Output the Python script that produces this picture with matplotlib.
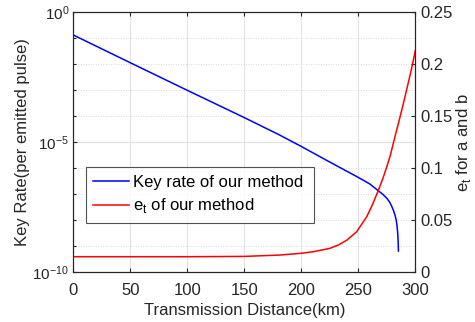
import numpy as np
import matplotlib.pyplot as plt
from matplotlib.ticker import FixedLocator, NullFormatter

plt.rcParams['font.family'] = ['Liberation Sans', 'DejaVu Sans']

# Key rate (log10 of rate)
rate_km = [0, 50, 100, 150, 181, 200, 225, 250, 260, 267.5, 272, 275, 277.5,
           279.3, 281, 282.2, 283.2, 283.9, 284.6, 285.0, 285.2]
rate_log = [-0.873, -1.94, -3.0, -4.05, -4.72, -5.16, -5.76, -6.35, -6.6, -6.86,
            -7.02, -7.15, -7.3, -7.46, -7.64, -7.8, -7.98, -8.18, -8.5, -8.85, -9.18]

# e_t
et_km = [0, 100, 150, 181, 200, 210.5, 225, 233, 240, 248.6, 257.4, 262, 267.5,
         271.5, 275, 278, 280.7, 283.5, 286.3, 289.5, 292.5, 295.5, 298.3, 300]
et_val = [0.015, 0.015, 0.0153, 0.0166, 0.0183, 0.0198, 0.023, 0.0265, 0.031,
          0.039, 0.0535, 0.064, 0.0785, 0.09, 0.1015, 0.112, 0.124, 0.136, 0.148,
          0.162, 0.176, 0.19, 0.204, 0.213]

fig = plt.figure(figsize=(4.75, 3.22), dpi=100)
ax = fig.add_axes([0.1543, 0.1543, 0.72, 0.8075])
ax2 = ax.twinx()

l1, = ax.plot(rate_km, 10 ** np.array(rate_log), color='#0000ff', lw=1.1)
l2, = ax2.plot(et_km, et_val, color='#ff0000', lw=1.1)

ax.set_yscale('log')
ax.set_xlim(0, 300)
ax.set_ylim(1e-10, 1)
ax.set_xticks(np.arange(0, 301, 50))
ax.yaxis.set_major_locator(FixedLocator([1e-10, 1e-5, 1]))
ax.yaxis.set_minor_locator(FixedLocator([10.0 ** k for k in range(-10, 1)]))
ax.yaxis.set_minor_formatter(NullFormatter())
ax.set_yticklabels(['$\\mathregular{10^{-10}}$', '$\\mathregular{10^{-5}}$',
                    '$\\mathregular{10^{0}}$'])

ax.grid(True, which='major', color='#e2e2e2', lw=0.8, ls='-')
ax.grid(True, which='minor', axis='y', color='#cfcfcf', lw=0.6, ls=(0, (1, 2)))
ax.set_axisbelow(True)

ax2.set_ylim(0, 0.25)
ax2.set_yticks(np.arange(0, 0.26, 0.05))
ax2.set_yticklabels(['0', '0.05', '0.1', '0.15', '0.2', '0.25'])

for a in (ax, ax2):
    for s in a.spines.values():
        s.set_color('#262626')
        s.set_linewidth(0.8)
    a.tick_params(direction='in', which='both', colors='#262626', labelsize=12,
                  length=3, width=0.8, labelcolor='#262626')
ax.tick_params(which='minor', length=2)
ax.tick_params(top=True, which='major', axis='x')
ax.tick_params(right=False, which='both', axis='y')
ax.tick_params(axis='y', labelsize=11, pad=3)
ax.tick_params(axis='x', pad=8)

ax.set_xlabel('Transmission Distance(km)', fontsize=12, color='#262626', labelpad=3)
ax.set_ylabel('Key Rate(per emitted pulse)', fontsize=12, color='#262626', labelpad=2)
ax2.set_ylabel('e$_\\mathregular{t}$ for a and b', fontsize=12, color='#262626',
               labelpad=1)

leg = ax2.legend([l1, l2], ['Key rate of our method', 'e$_\\mathregular{t}$ of our method'],
                 loc='upper left', bbox_to_anchor=(0.037, 0.186, 0.667, 0.218),
                 mode='expand', fontsize=12, frameon=True, fancybox=False,
                 borderaxespad=0, handlelength=2.15, handletextpad=0.25,
                 labelspacing=0.4, borderpad=0.45)
leg.get_frame().set_edgecolor('#262626')
leg.get_frame().set_linewidth(0.8)

fig.savefig('out.png', dpi=100)
